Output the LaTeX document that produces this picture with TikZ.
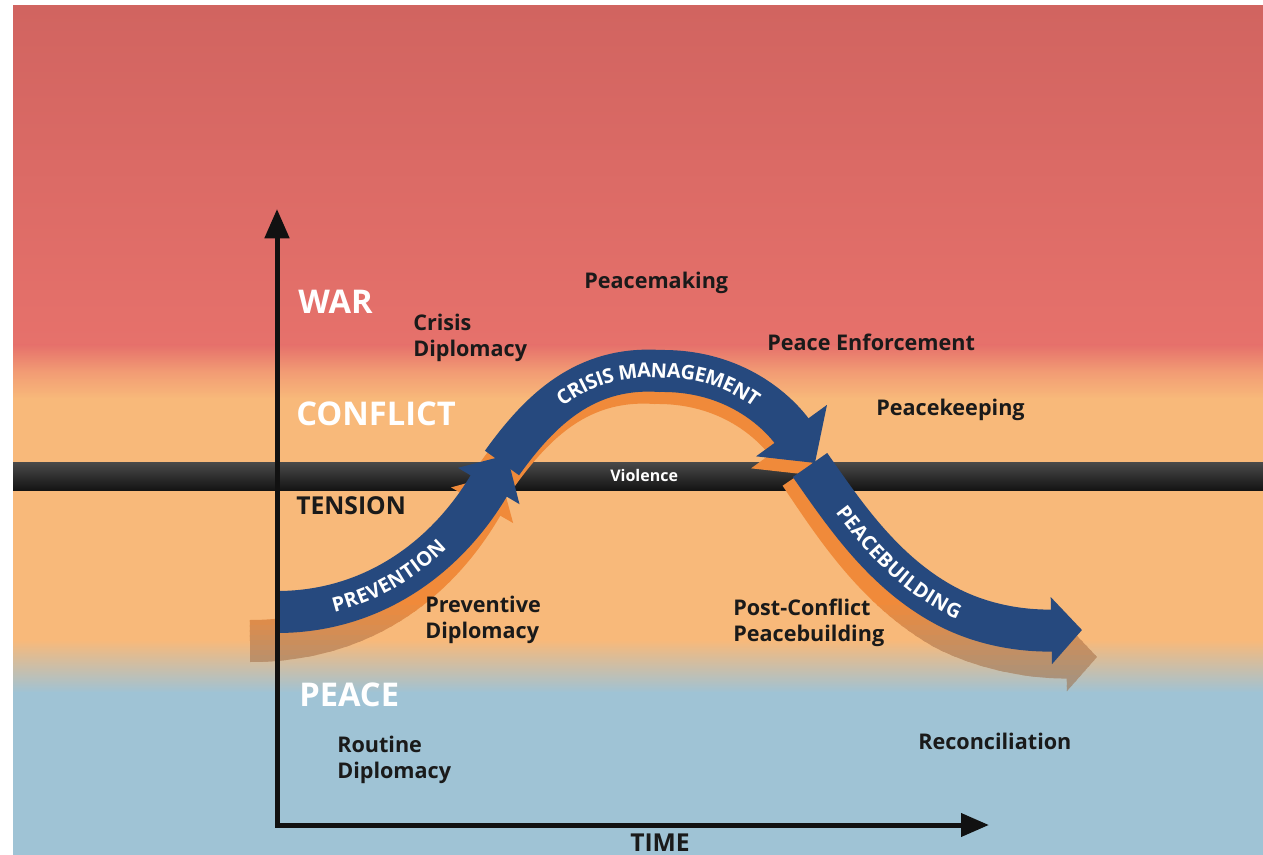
\documentclass[tikz,border=0pt]{standalone}
\usepackage{fontspec}
\setmainfont{Open Sans}
\usetikzlibrary{arrows.meta,decorations.text}
\definecolor{bgtop}{HTML}{D16460}
\definecolor{bgred}{HTML}{E6716B}
\definecolor{bgsalmon}{HTML}{F29C74}
\definecolor{bgorange}{HTML}{F8B97A}
\definecolor{bgblue}{HTML}{9FC3D5}
\definecolor{bandtop}{HTML}{4A4A4A}
\definecolor{bandbot}{HTML}{141414}
\definecolor{arrowblue}{HTML}{26497E}
\definecolor{shadoworange}{HTML}{F08A3A}
\definecolor{shadowgray}{HTML}{929590}
\definecolor{labeltext}{HTML}{1A1A1A}
\definecolor{axiscol}{HTML}{111111}
\newcommand\arrowfont{\fontsize{15}{15}\selectfont\bfseries}
\newcommand\shadowstrokes[1]{%
  \draw[band, draw=#1, -{Triangle[length=27pt,width=52pt]}]
    (250,641) .. controls (362,641) and (438,582) .. (500,474);
  \draw[band, draw=#1, -{Triangle[length=23pt,width=49pt]}]
    (800,474) .. controls (835,526) and (876,590) .. (945,629)
    .. controls (990,652) and (1040,658) .. (1097,657);
}
\begin{document}
\begin{tikzpicture}[x=0.75pt,y=-0.75pt,
  band/.style={line width=31.5pt, line cap=butt},
  zone/.style={font=\bfseries\fontsize{24.5}{26}\selectfont, text=white, anchor=base west, inner sep=0},
  tensionlab/.style={font=\bfseries\fontsize{18.5}{20}\selectfont, text=labeltext, anchor=base west, inner sep=0},
  lab/.style={font=\bfseries\fontsize{16.2}{19.5}\selectfont, text=labeltext, anchor=base west, inner sep=0, align=left},
  violab/.style={font=\bfseries\fontsize{12}{13}\selectfont, text=white, anchor=base west, inner sep=0},
  arrowtext/.style={decorate, decoration={text along path, text align=center, raise=-5.3pt, text color=white, text={|\arrowfont|#1}}}
]
\useasboundingbox (0,0) rectangle (1263,855);
% background
\fill[white] (0,0) rectangle (1263,855);
\shade[top color=bgtop, bottom color=bgred] (13,6) rectangle (1263,346);
\shade[top color=bgred, bottom color=bgorange, middle color=bgsalmon] (13,345) rectangle (1263,399);
\fill[bgorange] (13,398) rectangle (1263,641);
\shade[top color=bgorange, bottom color=bgblue] (13,640) rectangle (1263,693);
\fill[bgblue] (13,692) rectangle (1263,855);
% violence band
\shade[top color=bandtop, bottom color=bandbot] (13,462) rectangle (1263,490);
\node[violab] (violence) at (610,481) {Violence};
% crisis shadow
\draw[band, draw=shadoworange, shift={(-5,12)}, -{Triangle[length=30pt,width=64pt]}]
  (502,463) .. controls (540,410) and (585,366) .. (660,371)
  .. controls (735,370) and (778,412) .. (815,463);
% prevention / peacebuilding shadows with vertical fading
\begin{scope}
  \clip (0,0) rectangle (1263,601);
  \shadowstrokes{shadoworange}
\end{scope}
\foreach \i in {0,...,19} {
  \pgfmathsetmacro\stripy{600+5*\i}
  \pgfmathtruncatemacro\shmix{100-5*\i}
  \begin{scope}
    \clip (0,\stripy) rectangle (1263,\stripy+6);
    \shadowstrokes{shadoworange!\shmix!shadowgray}
  \end{scope}
}
\begin{scope}
  \clip (0,700) rectangle (1263,855);
  \shadowstrokes{shadowgray}
\end{scope}
% blue arrows
\coordinate (pbstart) at (810,465);
\coordinate (pbend) at (1082,630);
\draw[band, draw=arrowblue, -{Triangle[length=23pt,width=49pt]}]
  (pbstart) .. controls (845,515) and (885,575) .. (950,608)
  .. controls (990,628) and (1030,631) .. (pbend);
\coordinate (cmstart) at (502,463);
\coordinate (cmend) at (815,463);
\draw[band, draw=arrowblue, -{Triangle[length=30pt,width=64pt]}]
  (cmstart) .. controls (540,410) and (585,366) .. (660,371)
  .. controls (735,370) and (778,412) .. (cmend);
\coordinate (pvstart) at (277,612);
\coordinate (pvend) at (507,455);
\draw[band, draw=arrowblue, -{Triangle[length=27pt,width=52pt]}]
  (pvstart) .. controls (370,612) and (445,560) .. (pvend);
% arrow texts
\path[arrowtext={CRISIS MANAGEMENT}]
  (cmstart) .. controls (540,410) and (585,366) .. (660,371)
  .. controls (735,370) and (778,412) .. (cmend);
\path[arrowtext={PREVENTION}]
  (pvstart) .. controls (360,612) and (430,570) .. (478,500);
\path[arrowtext={PEACEBUILDING}]
  (pbstart) .. controls (845,515) and (885,575) .. (950,608)
  .. controls (970,618) and (990,623.75) .. (1011.5,627);
% axes
\coordinate (ytip) at (277,209);
\coordinate (origin) at (277,825);
\coordinate (xtip) at (989,825);
\draw[axiscol, line width=3.75pt, line join=miter,
  {Triangle[length=22pt,width=18pt]}-{Triangle[length=21pt,width=17pt]}]
  (ytip) -- (origin) -- (xtip);
% labels
\node[zone] (war) at (298,314) {WAR};
\node[zone] (conflict) at (296,425) {CONFLICT};
\node[tensionlab] (tension) at (296,514) {TENSION};
\node[zone] (peace) at (299,706) {PEACE};
\node[lab] (crisisdip) at (413,357) {Crisis\\Diplomacy};
\node[lab] (peacemaking) at (584,289) {Peacemaking};
\node[lab] (enforce) at (767,351) {Peace Enforcement};
\node[lab] (keeping) at (876,416) {Peacekeeping};
\node[lab] (prevdip) at (425,638) {Preventive\\Diplomacy};
\node[lab] (postconf) at (733,641) {Post-Conflict\\Peacebuilding};
\node[lab] (routine) at (337,778) {Routine\\Diplomacy};
\node[lab] (recon) at (918,749) {Reconciliation};
\node[tensionlab] (time) at (630,851) {TIME};
\end{tikzpicture}
\end{document}
